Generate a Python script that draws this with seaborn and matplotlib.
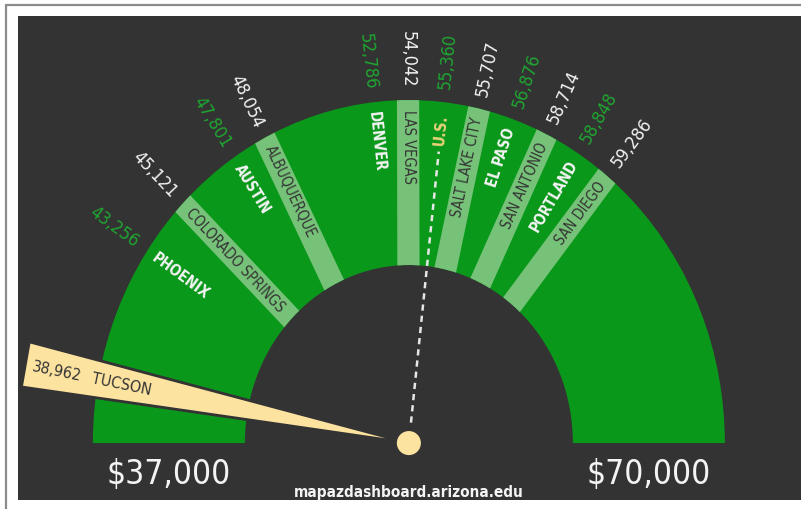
import numpy as np
import matplotlib
matplotlib.use("Agg")
import matplotlib.pyplot as plt
import seaborn as sns
from matplotlib.patches import Wedge, Polygon
from matplotlib.lines import Line2D

# median household income, gauge from $37,000 to $70,000
cities = ["PHOENIX", "COLORADO SPRINGS", "AUSTIN", "ALBUQUERQUE", "DENVER", "LAS VEGAS",
          "U.S.", "SALT LAKE CITY", "EL PASO", "SAN ANTONIO", "PORTLAND", "SAN DIEGO"]
incomes = [43256, 45121, 47801, 48054, 52786, 54042, 55360, 55707, 56876, 58714, 58848, 59286]
striped = ["COLORADO SPRINGS", "ALBUQUERQUE", "LAS VEGAS", "SALT LAKE CITY", "SAN ANTONIO", "SAN DIEGO"]
needle_city = "TUCSON"
needle_income = 38962
scale_min, scale_max = 37000, 70000

sns.set_theme(style="dark")
plt.rcParams["font.family"] = ["DejaVu Sans"]
plt.rcParams["font.stretch"] = "condensed"

BG = "#333333"
GREEN = "#0a981b"
STRIPE = "#76c278"
VAL_GREEN = "#1fa631"
WHITE = "#f4f4f4"
DARK = "#353535"
YELLOW = "#fde3a0"
US_YELLOW = "#e8d27a"

fig = plt.figure(figsize=(8.01, 5.10), dpi=100, facecolor="white")
ax = fig.add_axes([18 / 801, 9 / 510, 783 / 801, 484 / 510])
ax.set_facecolor(BG)
ax.set_xlim(-1.237, 1.241)
ax.set_ylim(-0.166, 1.245)
ax.set_xticks([])
ax.set_yticks([])
for s in ax.spines.values():
    s.set_visible(False)

# grey frame lines of the page
fig.add_artist(Line2D([5.5 / 801, 5.5 / 801], [0, 1 - 5.5 / 510], transform=fig.transFigure,
                      color="#8c8c8c", lw=1.6))
fig.add_artist(Line2D([5.5 / 801, 1], [1 - 5.5 / 510, 1 - 5.5 / 510], transform=fig.transFigure,
                      color="#8c8c8c", lw=1.6))

# pixel aspect of the data units (x vs y)
k = (484 / 1.411) / (783 / 2.478)


def to_angle(v):
    return np.interp(v, [scale_min, scale_max], [180, 0])


def screen_angle(theta):
    t = np.radians(theta)
    return np.degrees(np.arctan2(np.sin(t) * k, np.cos(t)))


def polar(r, theta):
    t = np.radians(theta)
    return r * np.cos(t), r * np.sin(t)


# spread crowded labels so they keep a minimum angular gap
angles = to_angle(np.array(incomes, dtype=float))
gap = 6.5
for _ in range(500):
    for i in range(len(angles) - 1):
        d = angles[i] - angles[i + 1]
        if d < gap:
            push = (gap - d) / 2
            angles[i] += push
            angles[i + 1] -= push

r_in, r_out = 0.519, 1.0
ring = Wedge((0, 0), r_out, 0, 180, width=r_out - r_in, facecolor=GREEN, edgecolor="none", zorder=1)
ax.add_patch(ring)

for city, val, th in zip(cities, incomes, angles):
    phi = screen_angle(th)
    left = th > 90
    rot = phi - 180 if left else phi
    if city == "U.S.":
        x0, y0 = polar(0.06, th)
        x1, y1 = polar(0.855, th)
        ax.plot([x0, x1], [y0, y1], color="#e6e6e6", lw=1.8, ls=(0, (2.5, 2)), zorder=3)
        x, y = polar(0.875, th)
        ax.text(x, y, city, color=US_YELLOW, fontsize=11, fontweight="bold", rotation=rot,
                rotation_mode="anchor", ha="left", va="center", zorder=4)
        lab_col = VAL_GREEN
    elif city in striped:
        x0, y0 = polar(0.45, th)
        x1, y1 = polar(1.05, th)
        ln, = ax.plot([x0, x1], [y0, y1], color=STRIPE, lw=16, solid_capstyle="butt", zorder=2)
        ln.set_clip_path(ring)
        x, y = polar(0.975, th)
        ax.text(x, y, city, color=DARK, fontsize=10.5, rotation=rot, rotation_mode="anchor",
                ha="left" if left else "right", va="center", zorder=4)
        lab_col = WHITE
    else:
        x, y = polar(0.975, th)
        ax.text(x, y, city, color=WHITE, fontsize=10.5, fontweight="bold", rotation=rot,
                rotation_mode="anchor", ha="left" if left else "right", va="center", zorder=4)
        lab_col = VAL_GREEN
    x, y = polar(1.04, th)
    ax.text(x, y, f"{val:,}", color=lab_col, fontsize=13, rotation=rot, rotation_mode="anchor",
            ha="right" if left else "left", va="center", zorder=4)

# Tucson needle
tn = to_angle(needle_income)
delta = 3.1
p1 = polar(1.237, tn + delta)
p2 = polar(1.237, tn - delta)
ax.add_patch(Polygon([(0, 0), p1, p2], closed=True, facecolor=YELLOW, edgecolor=BG, lw=2, zorder=5))
rot_n = screen_angle(tn) - 180
x, y = polar(1.135, tn)
ax.text(x, y, f"{needle_income:,}", color=DARK, fontsize=11.5, rotation=rot_n, rotation_mode="anchor",
        ha="center", va="center", zorder=6)
x, y = polar(0.925, tn)
ax.text(x, y, needle_city, color=DARK, fontsize=11.5, rotation=rot_n, rotation_mode="anchor",
        ha="center", va="center", zorder=6)
ax.scatter([0], [0], s=300, color=YELLOW, edgecolor="none", zorder=7)

# scale ends and source
mid = (r_in + r_out) / 2
ax.text(-mid, -0.088, f"${scale_min:,}", color=WHITE, fontsize=24, ha="center", va="center")
ax.text(mid, -0.088, f"${scale_max:,}", color=WHITE, fontsize=24, ha="center", va="center")
ax.text(0, -0.14, "mapazdashboard.arizona.edu", color=WHITE, fontsize=11, fontweight="bold",
        ha="center", va="center")

fig.savefig("out.png", dpi=100, facecolor="white")
